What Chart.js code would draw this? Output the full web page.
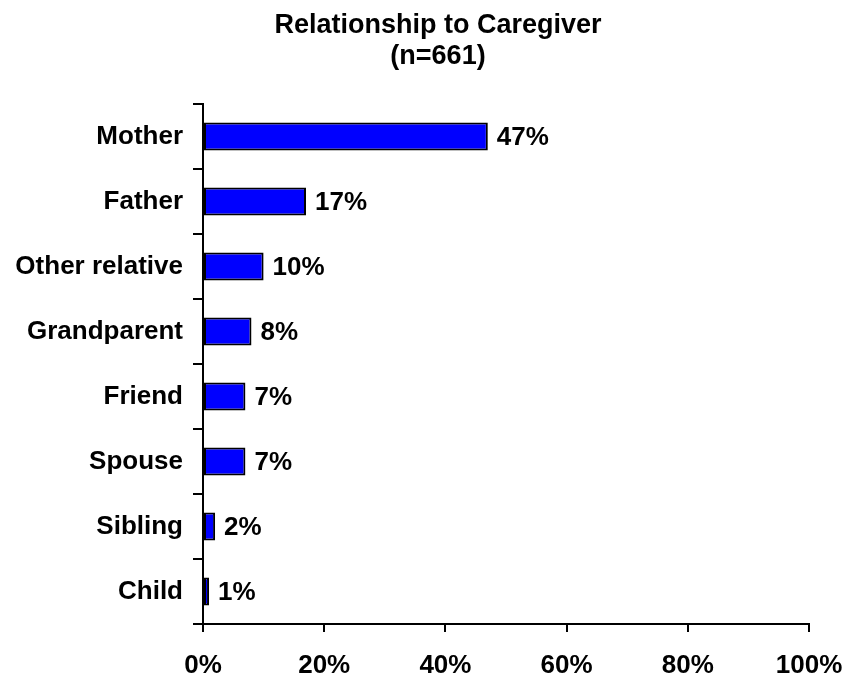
<!DOCTYPE html>
<html>
<head>
<meta charset="utf-8">
<script src="https://cdn.jsdelivr.net/npm/chart.js@4/dist/chart.umd.min.js"></script>
<style>
    html, body { margin: 0; padding: 0; background: #fff; }
    #wrap { width: 847px; height: 677px; }
</style>
</head>
<body>
<div id="wrap"><canvas id="chartCaregiver"></canvas></div>
<script>
const categories = ['Mother', 'Father', 'Other relative', 'Grandparent', 'Friend', 'Spouse', 'Sibling', 'Child'];
const percentages = [47, 17, 10, 8, 7, 7, 2, 1];
const titleLines = ['Relationship to Caregiver', '(n=661)'];

const fontFamily = "'Liberation Sans', Arial, Helvetica, sans-serif";

// two-line heading, centred a little right of the canvas middle (over the plot)
const heading = {
    id: 'heading',
    afterDraw(chart) {
        const ctx = chart.ctx;
        ctx.save();
        ctx.font = 'bold 27px ' + fontFamily;
        ctx.fillStyle = '#000';
        ctx.textAlign = 'center';
        ctx.textBaseline = 'alphabetic';
        titleLines.forEach(function (line, i) {
            ctx.fillText(line, 438, 33 + i * 31);
        });
        ctx.restore();
    }
};

// writes "NN%" just right of each bar end
const valueLabels = {
    id: 'valueLabels',
    afterDatasetsDraw(chart) {
        const ctx = chart.ctx;
        const meta = chart.getDatasetMeta(0);
        ctx.save();
        ctx.font = 'bold 26px ' + fontFamily;
        ctx.fillStyle = '#000';
        ctx.textAlign = 'left';
        ctx.textBaseline = 'middle';
        meta.data.forEach(function (bar, i) {
            ctx.fillText(percentages[i] + '%', bar.x + 9, bar.y + 1);
        });
        ctx.restore();
    }
};

new Chart('chartCaregiver', {
    type: 'bar',
    data: {
        labels: categories,
        datasets: [{
            data: percentages,
            backgroundColor: '#0000ff',
            borderColor: '#000',
            borderWidth: 2,
            borderSkipped: false,
            barPercentage: 0.43,
            categoryPercentage: 1
        }]
    },
    options: {
        indexAxis: 'y',
        responsive: true,
        maintainAspectRatio: false,
        animation: false,
        layout: {
            padding: { left: 0, right: 38, top: 104, bottom: 0 }
        },
        plugins: {
            legend: { display: false },
            tooltip: { enabled: false },
            title: { display: false }
        },
        scales: {
            x: {
                min: 0,
                max: 100,
                ticks: {
                    stepSize: 20,
                    color: '#000',
                    padding: 18,
                    font: { family: fontFamily, size: 26, weight: 'bold' },
                    callback: function (value) { return value + '%'; }
                },
                grid: {
                    drawOnChartArea: false,
                    color: '#000',
                    lineWidth: 2,
                    tickLength: 8
                },
                border: { color: '#000', width: 2 },
                afterFit: function (scale) {
                    scale.height = 53;
                    scale.paddingLeft = 0;
                    scale.paddingRight = 0;
                }
            },
            y: {
                ticks: {
                    color: '#000',
                    padding: 10,
                    font: { family: fontFamily, size: 26, weight: 'bold' }
                },
                grid: {
                    offset: true,
                    drawOnChartArea: false,
                    color: '#000',
                    lineWidth: 2,
                    tickLength: 10
                },
                border: { color: '#000', width: 2 },
                afterFit: function (scale) {
                    scale.width = 203;
                    scale.paddingTop = 0;
                    scale.paddingBottom = 0;
                }
            }
        }
    },
    plugins: [valueLabels, heading]
});
</script>
</body>
</html>
